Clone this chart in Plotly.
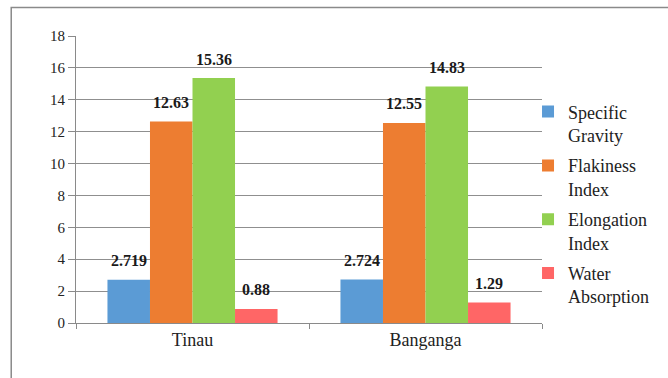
import plotly.graph_objects as go

# Aggregate test results for two river sources
sites = ["Tinau", "Banganga"]
series_names = ["Specific<br>Gravity", "Flakiness<br>Index", "Elongation<br>Index", "Water<br>Absorption"]
specific_gravity = [2.719, 2.724]
flakiness_index = [12.63, 12.55]
elongation_index = [15.36, 14.83]
water_absorption = [0.88, 1.29]
value_labels = [["2.719", "2.724"], ["12.63", "12.55"], ["15.36", "14.83"], ["0.88", "1.29"]]
y_ticks = list(range(0, 19, 2))

series_values = [specific_gravity, flakiness_index, elongation_index, water_absorption]
colors = ["#5B9BD5", "#ED7D31", "#92D050", "#FF6666"]

BAR_GAP = 0.27
serif = "Liberation Serif, Times New Roman, serif"

fig = go.Figure()
for idx, (name, vals, col) in enumerate(zip(series_names, series_values, colors)):
    fig.add_trace(go.Bar(
        x=sites, y=vals, name=name, legendgroup="g%d" % idx,
        marker=dict(color=col, line=dict(width=0)),
    ))

# value labels above each bar, positioned from the group layout of the bars
n = len(series_values)
bar_w = (1 - BAR_GAP) / n
annotations = []
for k, (vals, labs) in enumerate(zip(series_values, value_labels)):
    for i, (v, lab) in enumerate(zip(vals, labs)):
        xc = i - (1 - BAR_GAP) / 2 + (k + 0.5) * bar_w
        annotations.append(dict(
            x=xc, y=v, xref="x", yref="y", text="<b>%s</b>" % lab,
            showarrow=False, yanchor="middle", yshift=19,
            font=dict(family=serif, size=16, color="#1a1a1a"),
        ))

fig.update_layout(
    width=668, height=378,
    margin=dict(l=76, r=126, t=36, b=55),
    paper_bgcolor="white", plot_bgcolor="white",
    barmode="group", bargap=BAR_GAP, bargroupgap=0,
    font=dict(family=serif, color="#222222"),
    showlegend=True,
    legend=dict(
        x=0.97, xanchor="left", y=0.80, yanchor="top",
        font=dict(family=serif, size=18, color="#222222"),
        bgcolor="rgba(0,0,0,0)", itemwidth=30, valign="top",
        tracegroupgap=4,
    ),
    annotations=annotations,
    shapes=[dict(
        type="rect", xref="paper", yref="paper",
        x0=-0.139, x1=1.6, y0=-0.4, y1=1.099,
        line=dict(color="#8a8a8a", width=1.5), layer="below",
    )],
)
fig.update_xaxes(
    type="category", showgrid=False,
    showline=True, linecolor="#8a8a8a", linewidth=1,
    ticks="outside", tickson="boundaries", ticklen=5, tickcolor="#8a8a8a",
    tickfont=dict(family=serif, size=18, color="#222222"),
)
fig.update_yaxes(
    range=[0, 18], tickvals=y_ticks,
    showgrid=True, gridcolor="#8f8f8f", gridwidth=1,
    showline=True, linecolor="#8a8a8a", linewidth=1,
    ticks="outside", ticklen=7, tickcolor="#8a8a8a",
    tickfont=dict(family=serif, size=15, color="#222222"),
    zeroline=False,
)

fig.write_html("out.html")
